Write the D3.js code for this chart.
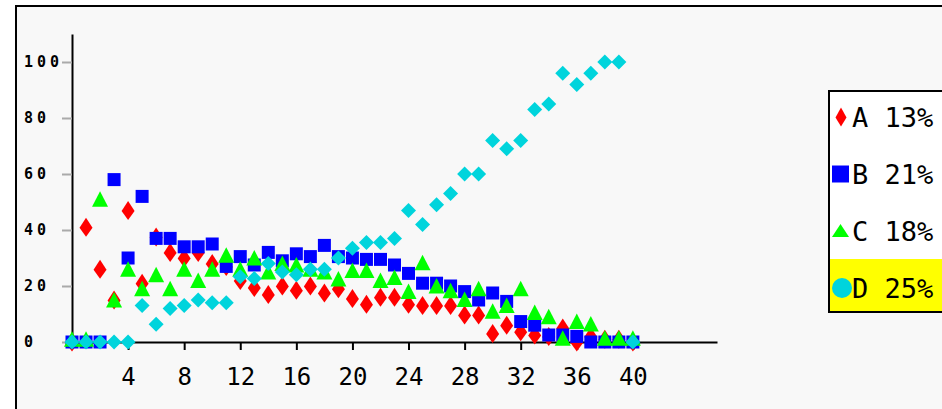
<!DOCTYPE html>
<html><head><meta charset="utf-8">
<script src="https://cdn.jsdelivr.net/npm/d3@7"></script>
<style>
html,body{margin:0;padding:0;background:#fff;overflow:hidden;}
svg{display:block;}
</style></head>
<body>
<script>
// ---- data ----
const xValues = [0,1,2,3,4,5,6,7,8,9,10,11,12,13,14,15,16,17,18,19,20,21,22,23,24,25,26,27,28,29,30,31,32,33,34,35,36,37,38,39,40];
const seriesA = [0,41,26,15,47,21,37.5,32,30,32,28,27,22,19.5,17,20,18.5,20,17.5,19,15.5,13.5,16,16,13.5,13,13,13,9.6,9.6,3,6,3.7,2.5,2,5,0,2,1,1,0];
const seriesB = [0,0,0,58,30,52,37,37,34,34,35,27,30.5,27.5,32,29,31.5,30.5,34.5,30.5,30,29.5,29.5,27.5,24.5,21,21,20,18,15,17.5,14.5,7.3,6,2.5,2.5,2,0,0,0,0];
const seriesC = [1,1,51,15,26,19,24,19,26,22,26,31,26,30,25,28,27.5,26,25,22.5,25.5,25.5,22,23,18,28.3,20,18.3,15.2,19,11,13,19,10.5,9,1.3,7.3,6.4,1.3,1.3,1.3];
const seriesD = [0,0,0,0,0,13,6.3,12,13,15,14,14,23.3,22.7,28,25,24,26,26,30,33.5,35.5,35.5,37,47,42,49,53,60,60,72,69,72,83,85,96,92,96,100,100,0];
const seriesNames = ["A","B","C","D"];
const seriesPercents = ["13%","21%","18%","25%"];
const xTickValues = [4,8,12,16,20,24,28,32,36,40];
const yTickValues = [0,20,40,60,80,100];

const W = 942, H = 409;
const svg = d3.select("body").append("svg").attr("width", W).attr("height", H);

// frame
svg.append("rect").attr("x",16).attr("y",6).attr("width",940).attr("height",420)
  .attr("fill","#f8f8f8").attr("stroke","#000").attr("stroke-width",2);

const x = d3.scaleLinear().domain([0,46]).range([72,717]);
const y = d3.scaleLinear().domain([0,110]).range([342,34]);

// x axis
const gx = svg.append("g").attr("transform",`translate(0,${y(0)})`)
  .call(d3.axisBottom(x).tickValues(xTickValues).tickSize(8).tickSizeOuter(0).tickFormat(d3.format("d")));
gx.select(".domain").attr("stroke","#000").attr("stroke-width",2);
gx.selectAll(".tick line").attr("stroke","#000").attr("stroke-width",2);
gx.selectAll(".tick text").attr("y",43).attr("dy",0)
  .attr("font-family","'DejaVu Sans Mono', monospace").attr("font-size",24).attr("fill","#000");

// y axis
const gy = svg.append("g").attr("transform",`translate(${x(0)},0)`)
  .call(d3.axisLeft(y).tickValues(yTickValues).tickSize(10).tickSizeOuter(0).tickFormat(d3.format("d")));
gy.select(".domain").attr("stroke","#000").attr("stroke-width",2);
gy.selectAll(".tick line").attr("stroke","#aaa").attr("stroke-width",2);
gy.selectAll(".tick text").attr("x",-48).attr("dy","0.3em").attr("text-anchor","start")
  .attr("font-family","'DejaVu Sans Mono', monospace").attr("font-weight","bold")
  .attr("font-size",15).attr("letter-spacing","4px").attr("fill","#000");

// shapes
const redDiamond = "M0,-9.5L6.5,0.5L0,9.5L-6.5,0.5Z";
const square = "M-6.5,-6.5H6.5V6.5H-6.5Z";
const triangle = "M0,-8L8,7.5L-8,7.5Z";
const cyanDiamond = "M0,-7.5L7.5,0L0,7.5L-7.5,0Z";

const series = [
  {vals: seriesA, color: "#ff0000", path: redDiamond},
  {vals: seriesB, color: "#0000ff", path: square},
  {vals: seriesC, color: "#00ff00", path: triangle},
  {vals: seriesD, color: "#00d4dc", path: cyanDiamond}
];
series.forEach(s => {
  svg.append("g").selectAll("path").data(xValues.map((xv,i)=>[xv,s.vals[i]]))
    .join("path").attr("d", s.path)
    .attr("transform", d => `translate(${x(d[0])},${y(d[1])})`)
    .attr("fill", s.color);
});

// legend
const lg = svg.append("g");
lg.append("rect").attr("x",829).attr("y",91).attr("width",130).attr("height",221)
  .attr("fill","#fff").attr("stroke","#000").attr("stroke-width",2);
lg.append("rect").attr("x",830).attr("y",259).attr("width",130).attr("height",52).attr("fill","#ffff00");
const rowY = d3.scalePoint().domain(seriesNames).range([117,288]);
const legendSym = [
  {path: "M0,-9.5L5.5,0.5L0,9.5L-5.5,0.5Z", dx: 841},
  {path: "M-8.5,-8.5H8.5V8.5H-8.5Z", dx: 840.5},
  {path: "M0,-7L8.5,6L-8.5,6Z", dx: 840.5},
  {path: null, dx: 842}
];
seriesNames.forEach((n,i) => {
  const cy = rowY(n);
  if (legendSym[i].path) {
    lg.append("path").attr("d", legendSym[i].path).attr("transform",`translate(${legendSym[i].dx},${cy})`).attr("fill", series[i].color);
  } else {
    lg.append("circle").attr("cx", legendSym[i].dx).attr("cy", cy).attr("r",10).attr("fill", series[i].color);
  }
  lg.append("text").attr("x",852).attr("y",cy+10)
    .attr("font-family","'DejaVu Sans Mono', monospace").attr("font-size",27).attr("fill","#000")
    .attr("xml:space","preserve").style("white-space","pre")
    .text(n + " " + seriesPercents[i]);
});
</script>
</body></html>
